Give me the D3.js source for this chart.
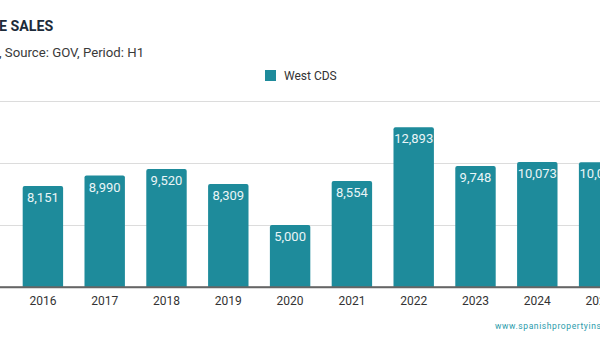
<!DOCTYPE html>
<html>
<head>
<meta charset="utf-8">
<script src="https://cdn.jsdelivr.net/npm/d3@7"></script>
<style>
    body { margin: 0; background: #fff; }
    svg { display: block; font-family: Roboto, "Noto Sans", sans-serif; }
</style>
</head>
<body>
<div id="chart"></div>
<script>
// chart values
const years = ["2016", "2017", "2018", "2019", "2020", "2021", "2022", "2023", "2024", "2025"];
const sales = [8151, 8990, 9520, 8309, 5000, 8554, 12893, 9748, 10073, 10052];
const yTicks = [0, 5000, 10000, 15000];
const seriesName = "West CDS";
const titleText = "E SALES";
const subtitleText = ", Source: GOV, Period: H1";
const creditText = "www.spanishpropertyinsight.com";

const width = 600, height = 350;
const barColor = "#1e8b9b";

let svg = d3.select("#chart").append("svg")
    .attr("width", width)
    .attr("height", height);

let xScale = d3.scaleBand()
    .domain(years)
    .range([12, 630])
    .paddingInner(0.346)
    .paddingOuter(0.173);

let yScale = d3.scaleLinear()
    .domain([0, 15000])
    .range([287, 101]);

// title + subtitle (left part sits outside the visible frame)
svg.append("text")
    .attr("x", -1)
    .attr("y", 31)
    .attr("font-size", 14.2)
    .attr("font-weight", "bold")
    .attr("fill", "#1d2b3a")
    .text(titleText);

svg.append("text")
    .attr("x", -1)
    .attr("y", 57)
    .attr("font-size", 13.2)
    .attr("fill", "#3a3a3a")
    .text(subtitleText);

// legend
let legend = svg.append("g").attr("transform", "translate(265,70)");
legend.append("rect")
    .attr("width", 11)
    .attr("height", 11)
    .attr("fill", barColor);
legend.append("text")
    .attr("x", 19)
    .attr("y", 10)
    .attr("font-size", 12)
    .attr("fill", "#333")
    .text(seriesName);

// gridlines only, the value axis labels are outside the frame
let grid = svg.append("g")
    .attr("transform", "translate(620,0)")
    .call(d3.axisLeft(yScale).tickValues(yTicks).tickSize(650).tickFormat(""));
grid.select(".domain").remove();
grid.selectAll(".tick line")
    .attr("stroke", function(d) { return d === 0 ? "#666" : "#dcdcdc"; })
    .attr("stroke-width", function(d) { return d === 0 ? 1.3 : 1.2; });

// bars
let bars = svg.selectAll(".bar").data(sales)
    .enter().append("path")
    .attr("class", "bar")
    .attr("fill", barColor)
    .attr("d", function(d, i) {
        let x0 = xScale(years[i]), w = xScale.bandwidth();
        let y0 = yScale(d), y1 = yScale(0), r = 2;
        return "M" + x0 + "," + y1 +
            "V" + (y0 + r) + "Q" + x0 + "," + y0 + " " + (x0 + r) + "," + y0 +
            "H" + (x0 + w - r) + "Q" + (x0 + w) + "," + y0 + " " + (x0 + w) + "," + (y0 + r) +
            "V" + y1 + "Z";
    });

// baseline on top of bars
svg.append("line")
    .attr("x1", -20).attr("x2", 640)
    .attr("y1", yScale(0)).attr("y2", yScale(0))
    .attr("stroke", "#666")
    .attr("stroke-width", 1.3);

// value labels
svg.selectAll(".val").data(sales)
    .enter().append("text")
    .attr("class", "val")
    .attr("x", function(d, i) { return xScale(years[i]) + xScale.bandwidth() / 2; })
    .attr("y", function(d) { return yScale(d) + 16; })
    .attr("text-anchor", "middle")
    .attr("font-size", 13)
    .attr("fill", "#eaf5f7")
    .text(function(d) { return d3.format(",")(d); });

// x-axis labels
let xAxis = svg.append("g")
    .attr("transform", "translate(0," + yScale(0) + ")")
    .call(d3.axisBottom(xScale).tickSize(0).tickPadding(9));
xAxis.select(".domain").remove();
xAxis.selectAll("text")
    .attr("font-size", 12)
    .attr("font-family", "Roboto, sans-serif")
    .attr("fill", "#333");

// credit
svg.append("text")
    .attr("x", 495)
    .attr("y", 329)
    .attr("font-size", 8.5)
    .attr("letter-spacing", 0.6)
    .attr("fill", "#2a9bab")
    .text(creditText);
</script>
</body>
</html>
